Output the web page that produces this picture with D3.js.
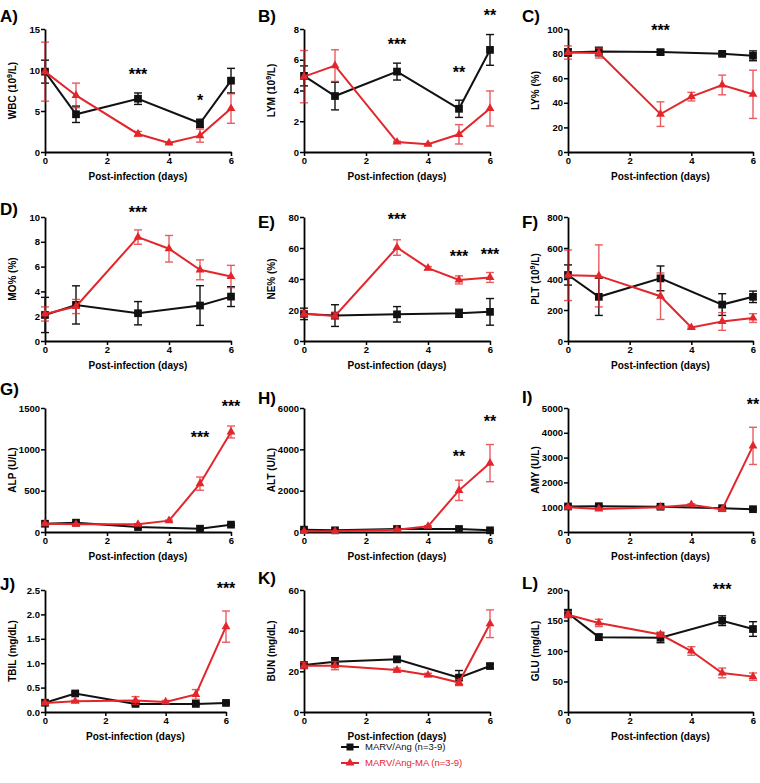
<!DOCTYPE html>
<html><head><meta charset="utf-8">
<script src="https://cdn.jsdelivr.net/npm/d3@7"></script>
<style>
body{margin:0;background:#fff;}
text{font-family:"Liberation Sans",Arial,sans-serif;}
</style></head>
<body><svg id="c" width="760" height="783"></svg>
<script>
// ---------- DATA ----------
const daysAng = [0, 1, 3, 5, 6];
const daysMA = [0, 1, 3, 4, 5, 6];
const panelLetters = ["A)", "B)", "C)", "D)", "E)", "F)", "G)", "H)", "I)", "J)", "K)", "L)"];
const yNames = ["WBC", "LYM", "LY% (%)", "MO% (%)", "NE% (%)", "PLT", "ALP (U/L)", "ALT (U/L)", "AMY (U/L)", "TBIL (mg/dL)", "BUN (mg/dL)", "GLU (mg/dL)"];
const yMaxes = [15, 8, 100, 10, 80, 800, 1500, 6000, 5000, 2.5, 60, 200];
const yTickSteps = [5, 2, 20, 2, 20, 200, 500, 2000, 1000, 0.5, 20, 50];
const xTicks = [0, 2, 4, 6];
const xLabel = "Post-infection (days)";
const legendLabels = ["MARV/Ang (n=3-9)", "MARV/Ang-MA (n=3-9)"];

// MARV/Ang mean and SEM (days 0,1,3,5,6)
const wbcAng = [9.8, 4.6, 6.5, 3.5, 8.7],      wbcAngErr = [1.4, 1.0, 0.7, 0.5, 1.5];
const lymAng = [4.95, 3.64, 5.23, 2.81, 6.64], lymAngErr = [0.65, 0.9, 0.55, 0.56, 1.0];
const lyAng = [80.9, 81.7, 81.2, 79.8, 78.2],  lyAngErr = [3, 3.5, 2, 1.5, 4];
const moAng = [2.1, 2.91, 2.24, 2.86, 3.58],   moAngErr = [1.42, 1.54, 0.94, 1.6, 0.8];
const neAng = [17.5, 16.4, 17.2, 17.9, 18.8],  neAngErr = [3.7, 7, 5, 2.6, 8.6];
const pltAng = [426, 285, 404, 235, 285],      pltAngErr = [65, 120, 80, 70, 37];
const alpAng = [100, 113, 60, 40, 89],         alpAngErr = [8, 10, 8, 6, 8];
const altAng = [114, 81, 146, 146, 81],        altAngErr = [20, 15, 20, 20, 15];
const amyAng = [1030, 1040, 1020, 960, 920],   amyAngErr = [40, 40, 40, 40, 40];
const tbilAng = [0.19, 0.38, 0.166, 0.166, 0.186], tbilAngErr = [0.02, 0.03, 0.02, 0.02, 0.02];
const bunAng = [23.1, 24.7, 25.9, 16.9, 22.6], bunAngErr = [1, 2, 1, 3.5, 1];
const gluAng = [162, 122.7, 121.6, 149.7, 136], gluAngErr = [6, 5, 8, 8, 12];

// MARV/Ang-MA mean and SEM (days 0,1,3,4,5,6)
const wbcMA = [9.8, 6.9, 2.2, 1.1, 2.0, 5.3],     wbcMAErr = [3.6, 1.5, 0.3, 0.1, 0.8, 1.8];
const lymMA = [4.9, 5.62, 0.65, 0.5, 1.15, 2.83], lymMAErr = [1.7, 1.03, 0.05, 0.05, 0.63, 1.14];
const lyMA = [80.9, 80.4, 30.8, 45, 54.5, 46.9],  lyMAErr = [5.4, 4, 10, 3.5, 8, 19.6];
const moMA = [2.18, 2.78, 8.38, 7.44, 5.74, 5.2], moMAErr = [0.57, 0.57, 0.58, 1.07, 0.8, 0.9];
const neMA = [17.5, 16.2, 60.3, 47, 39.4, 41],    neMAErr = [2, 2, 5, 1, 2.6, 3.2];
const pltMA = [424, 420, 289, 87, 126, 148],      pltMAErr = [163, 200, 150, 5, 57, 28];
const alpMA = [100, 93, 93, 137, 585, 1210],      alpMAErr = [10, 8, 8, 8, 80, 72];
const altMA = [33, 33, 114, 276, 2016, 3333],     altMAErr = [10, 10, 20, 30, 490, 900];
const amyMA = [1000, 930, 1000, 1100, 910, 3473], amyMAErr = [30, 40, 30, 40, 30, 750];
const tbilMA = [0.186, 0.22, 0.235, 0.207, 0.36, 1.75], tbilMAErr = [0.02, 0.02, 0.08, 0.03, 0.1, 0.32];
const bunMA = [22.8, 22.8, 20.6, 18.2, 14.5, 43.4], bunMAErr = [1.5, 2, 1, 0.8, 1.5, 6.8];
const gluMA = [159.5, 146, 127, 100, 64, 58],     gluMAErr = [5, 6, 4, 7, 8, 6];

// Significance marks
const sigPanel = [0, 0, 1, 1, 1, 2, 3, 4, 4, 4, 6, 6, 7, 7, 8, 9, 11];
const sigDay =   [3, 5, 3, 5, 6, 3, 3, 3, 5, 6, 5, 6, 5, 6, 6, 6, 5];
const sigY =     [9.8, 6.65, 7.2, 5.36, 9.08, 101.6, 10.6, 80.6, 56.8, 58, 1185, 1560, 3800, 5510, 5260, 2.59, 206];
const sigText =  ["***", "*", "***", "**", "**", "***", "***", "***", "***", "***", "***", "***", "**", "**", "**", "***", "***"];

const angSeries = [wbcAng, lymAng, lyAng, moAng, neAng, pltAng, alpAng, altAng, amyAng, tbilAng, bunAng, gluAng];
const angErrs = [wbcAngErr, lymAngErr, lyAngErr, moAngErr, neAngErr, pltAngErr, alpAngErr, altAngErr, amyAngErr, tbilAngErr, bunAngErr, gluAngErr];
const maSeries = [wbcMA, lymMA, lyMA, moMA, neMA, pltMA, alpMA, altMA, amyMA, tbilMA, bunMA, gluMA];
const maErrs = [wbcMAErr, lymMAErr, lyMAErr, moMAErr, neMAErr, pltMAErr, alpMAErr, altMAErr, amyMAErr, tbilMAErr, bunMAErr, gluMAErr];
const superNine = [true, true, false, false, false, true, false, false, false, false, false, false];

// ---------- LAYOUT ----------
const colX = [45, 304, 568];
const colW = [186, 186, 185];
const rowTop = [29, 217, 408, 590];
const rowBot = [152, 341, 532, 712];
const letterPos = [[0,16],[258,16],[522,16],[0,209],[258,222],[522,222],[0,389],[258,398],[522,397],[0,584],[258,578],[522,583]];
const BLACK = "#111", RED = "#e3262b";

const svg = d3.select("#c");

panelLetters.forEach((lab, i) => {
  const r = Math.floor(i / 3), c = i % 3;
  const x0 = colX[c], w = (i === 9) ? 181 : colW[c];
  const x = d3.scaleLinear().domain([0, 6]).range([x0, x0 + w]);
  const y = d3.scaleLinear().domain([0, yMaxes[i]]).range([rowBot[r], rowTop[r]]);
  const g = svg.append("g");

  g.append("text").attr("x", letterPos[i][0]).attr("y", letterPos[i][1]).attr("dy", "0.35em")
    .attr("font-size", 17).attr("font-weight", "bold").text(lab);

  const ticks = d3.range(0, yMaxes[i] + 1e-9, yTickSteps[i]);
  const fmt = yMaxes[i] < 5 ? d3.format(".1f") : d3.format("d");
  const ya = g.append("g").attr("transform", `translate(${x0},0)`)
    .call(d3.axisLeft(y).tickValues(ticks).tickFormat(fmt).tickSize(4).tickSizeOuter(0).tickPadding(1));
  const xa = g.append("g").attr("transform", `translate(0,${rowBot[r]})`)
    .call(d3.axisBottom(x).tickValues(xTicks).tickFormat(d3.format("d")).tickSize(4).tickSizeOuter(0).tickPadding(1));
  [ya, xa].forEach(a => {
    a.select(".domain").attr("stroke", "#000").attr("stroke-width", 1.8);
    a.selectAll(".tick line").attr("stroke", "#000").attr("stroke-width", 1.5);
    a.selectAll(".tick text").attr("font-size", 9.5).attr("font-weight", "bold").attr("fill", "#000")
      .attr("font-family", "Liberation Sans, Arial, sans-serif");
  });

  g.append("text").attr("x", x0 + w / 2).attr("y", rowBot[r] + 24).attr("dy", "0.35em")
    .attr("text-anchor", "middle").attr("font-size", 10).attr("font-weight", "bold").text(xLabel);
  const yl = g.append("text").attr("transform", `translate(${x0 - 33},${(rowTop[r] + rowBot[r]) / 2}) rotate(-90)`)
    .attr("text-anchor", "middle").attr("dy", "0.35em").attr("font-size", 10).attr("font-weight", "bold");
  if (superNine[i]) {
    yl.append("tspan").text(yNames[i] + " (10");
    yl.append("tspan").attr("font-size", 7).attr("dy", "-4").text("9");
    yl.append("tspan").attr("dy", "4").text("/L)");
  } else yl.text(yNames[i]);

  const drawSeries = (days, vals, errs, color, shape, errOpacity) => {
    const pts = days.map((d, k) => ({ d, v: vals[k], e: errs[k] }));
    const eg = g.append("g").attr("stroke", color).attr("stroke-width", 1.4).attr("opacity", errOpacity);
    pts.forEach(p => {
      const top = y(p.v + p.e), bot = y(Math.max(0, p.v - p.e)), cx = x(p.d);
      eg.append("line").attr("x1", cx).attr("x2", cx).attr("y1", top).attr("y2", bot);
      eg.append("line").attr("x1", cx - 4).attr("x2", cx + 4).attr("y1", top).attr("y2", top);
      eg.append("line").attr("x1", cx - 4).attr("x2", cx + 4).attr("y1", bot).attr("y2", bot);
    });
    g.append("path").datum(pts).attr("fill", "none").attr("stroke", color).attr("stroke-width", 2)
      .attr("d", d3.line().x(p => x(p.d)).y(p => y(p.v)));
    g.selectAll(null).data(pts).join("path")
      .attr("transform", p => `translate(${x(p.d)},${y(p.v)})`)
      .attr("fill", color)
      .attr("d", d3.symbol().type(shape).size(shape === d3.symbolSquare ? 60 : 34));
  };
  drawSeries(daysAng, angSeries[i], angErrs[i], BLACK, d3.symbolSquare, 1);
  drawSeries(daysMA, maSeries[i], maErrs[i], RED, d3.symbolTriangle, 0.75);

  sigPanel.forEach((p, k) => {
    if (p !== i) return;
    g.append("text").attr("x", x(sigDay[k])).attr("y", y(sigY[k])).attr("dy", "0.55em")
      .attr("text-anchor", "middle").attr("font-size", 16).attr("font-weight", "bold").text(sigText[k]);
  });
});

// legend
const lg = svg.append("g");
const legColors = [BLACK, RED];
const legShapes = [d3.symbolSquare, d3.symbolTriangle];
legendLabels.forEach((t, k) => {
  const ly = 747 + k * 16;
  lg.append("line").attr("x1", 341).attr("x2", 359).attr("y1", ly).attr("y2", ly).attr("stroke", legColors[k]).attr("stroke-width", 2);
  lg.append("path").attr("transform", `translate(350,${ly})`).attr("fill", legColors[k])
    .attr("d", d3.symbol().type(legShapes[k]).size(k === 0 ? 49 : 34));
  lg.append("text").attr("x", 365).attr("y", ly).attr("dy", "0.35em").attr("font-size", 9.5)
    .attr("fill", legColors[k]).text(t);
});
</script></body></html>
